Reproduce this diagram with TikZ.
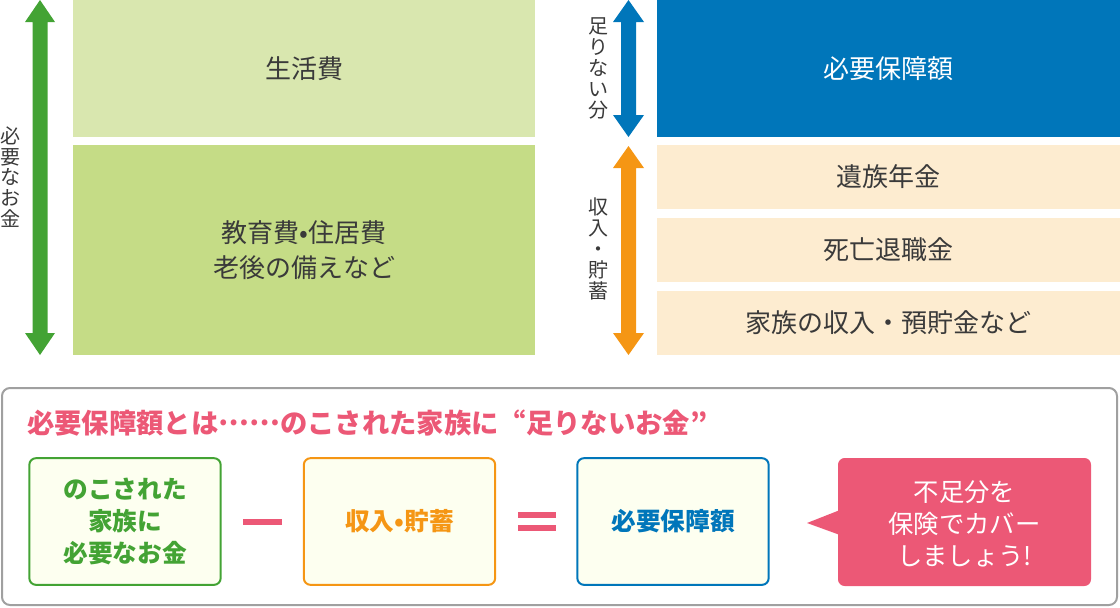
\documentclass[tikz,border=0pt]{standalone}
\usepackage{fontspec}
\setmainfont{Noto Sans CJK JP}
\definecolor{agreen}{RGB}{67,163,52}
\definecolor{lgreenA}{RGB}{217,231,175}
\definecolor{lgreenB}{RGB}{197,220,134}
\definecolor{ablue}{RGB}{0,118,186}
\definecolor{aorange}{RGB}{245,150,20}
\definecolor{beige}{RGB}{253,236,208}
\definecolor{dtext}{RGB}{58,58,58}
\definecolor{apink}{RGB}{236,88,118}
\definecolor{cfill}{RGB}{253,255,240}
\definecolor{pborder}{RGB}{160,160,160}
\tikzset{
  topbox/.style={inner sep=0pt, text=dtext, align=center, font=\fontsize{19.5}{26}\selectfont},
  vlabel/.style={inner sep=0pt, text=dtext, align=center, font=\fontsize{15}{15.6}\selectfont},
  eqbox/.style={draw, line width=1.5pt, rounded corners=5pt, fill=cfill, inner sep=0pt,
     minimum width=143.5pt, minimum height=95pt, align=center,
     font=\bfseries\fontsize{18.5}{24}\selectfont},
  bar/.style={draw=apink, line width=4.5pt},
}
\begin{document}
\begin{tikzpicture}[x=0.75pt,y=-0.75pt]
\useasboundingbox (0,0) rectangle (1120,607);
% left arrow
\fill[agreen] (40,0) -- (55,22) -- (47.5,22) -- (47.5,333) -- (55,333) -- (40,355) -- (25,333) -- (32.5,333) -- (32.5,22) -- (25,22) -- cycle;
\node[vlabel] (lneed) at (10,177) {必\\要\\な\\お\\金};
% left boxes
\node[topbox, fill=lgreenA, minimum width=346.5pt, minimum height=102.75pt] (living) at (304,68.5) {生活費};
\node[topbox, fill=lgreenB, minimum width=346.5pt, minimum height=157.5pt] (edu) at (304,250) {教育費•住居費\\老後の備えなど};
% right arrows
\fill[ablue] (628.5,0) -- (644,22) -- (636,22) -- (636,115) -- (644,115) -- (628.5,137) -- (613,115) -- (621,115) -- (621,22) -- (613,22) -- cycle;
\fill[aorange] (628.5,146) -- (644,168) -- (636,168) -- (636,333) -- (644,333) -- (628.5,355) -- (613,333) -- (621,333) -- (621,168) -- (613,168) -- cycle;
\node[vlabel] (lshort) at (598,68.5) {足\\り\\な\\い\\分};
\node[vlabel] (lincome) at (598,249) {収\\入\\・\\貯\\蓄};
% right boxes
\node[topbox, fill=ablue, text=white, minimum width=347.25pt, minimum height=102.75pt] (need) at (888.5,68.5) {必要保障額};
\node[topbox, fill=beige, minimum width=347.25pt, minimum height=48pt] (pension) at (888.5,177) {遺族年金};
\node[topbox, fill=beige, minimum width=347.25pt, minimum height=48pt] (retire) at (888.5,250) {死亡退職金};
\node[topbox, fill=beige, minimum width=347.25pt, minimum height=48pt] (family) at (888.5,323) {家族の収入・預貯金など};
% bottom panel
\draw[pborder, line width=1.5pt, rounded corners=6pt] (2,388) rectangle (1117,605);
\node[anchor=west, inner sep=0pt, text=apink, font=\bfseries\fontsize{20.5}{24}\selectfont] (title) at (27,423) {必要保障額とは\raisebox{0.3em}{……}のこされた家族に{\addfontfeatures{CharacterWidth=Full}“}足りないお金”};
\node[eqbox, draw=agreen, text=agreen] (bneed) at (125,521.5) {のこされた\\家族に\\必要なお金};
\node[eqbox, draw=aorange, text=aorange] (bincome) at (399.5,521.5) {収入•貯蓄};
\node[eqbox, draw=ablue, text=ablue] (bres) at (673,521.5) {必要保障額};
\draw[bar] (243,522) -- (282,522);
\draw[bar] (518,515) -- (556,515);
\draw[bar] (518,528) -- (556,528);
% callout
\fill[apink, rounded corners=5pt] (838,458) rectangle (1091,586);
\fill[apink] (840,510) -- (807,523) -- (840,535) -- cycle;
\node[inner sep=0pt, text=white, align=center, font=\fontsize{19}{24}\selectfont] (callout) at (964.5,524) {不足分を\\保険でカバー\\しましょう!};
\end{tikzpicture}
\end{document}
